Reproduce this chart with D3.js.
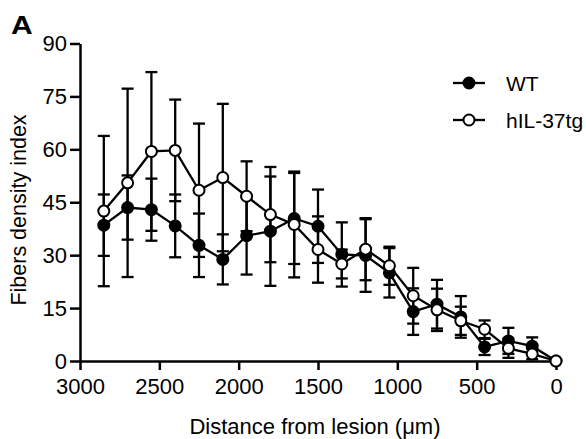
<!DOCTYPE html>
<html lang="en">
<head>
    <meta charset="UTF-8">
    <title>Fibers density index</title>
    <style>
        body {
            background-color: #ffffff;
            margin: 0;
            overflow: hidden;
        }
        svg {
            display: block;
            font-family: "Liberation Sans", Arial, sans-serif;
        }
        .axis path, .axis line {
            stroke: #000;
            stroke-width: 2.5;
        }
        .axis text {
            font-size: 22px;
            fill: #000;
        }
    </style>
</head>
<body>
    <svg id="chart" width="586" height="439"></svg>

    <script src="https://d3js.org/d3.v7.min.js"></script>
    <script>
        // distance from lesion (um)
        const distances = [2850, 2700, 2550, 2400, 2250, 2100, 1950, 1800, 1650, 1500,
                           1350, 1200, 1050, 900, 750, 600, 450, 300, 150, 0];

        const wtMean = [38.5, 43.5, 42.9, 38.3, 32.8, 28.8, 35.5, 36.8, 40.4, 38.2,
                        30.2, 29.9, 25.0, 14.0, 16.1, 12.5, 4.0, 5.7, 4.2, 0];
        const wtErr  = [8.7, 9.1, 8.8, 8.9, 9.0, 7.1, 11.0, 15.5, 12.9, 10.4,
                        9.1, 10.3, 7.0, 6.6, 6.9, 5.9, 2.3, 3.7, 2.5, 0];

        const tgMean = [42.5, 50.5, 59.4, 59.7, 48.4, 52.0, 46.7, 41.5, 38.7, 31.6,
                        27.5, 31.7, 27.0, 18.5, 14.5, 11.4, 9.0, 3.6, 2.0, 0];
        const tgErr  = [21.3, 26.7, 22.5, 14.4, 18.9, 20.9, 9.9, 13.5, 15.0, 9.4,
                        4.1, 8.8, 5.4, 7.9, 6.0, 4.0, 2.5, 2.7, 1.5, 0];

        const xTicks = [3000, 2500, 2000, 1500, 1000, 500, 0];
        const yTicks = [0, 15, 30, 45, 60, 75, 90];

        const series = [
            { name: "WT", mean: wtMean, err: wtErr, fill: "#000" },
            { name: "hIL-37tg", mean: tgMean, err: tgErr, fill: "#fff" }
        ];

        const svg = d3.select("#chart");

        const x = d3.scaleLinear().domain([3000, 0]).range([80, 556]);
        const y = d3.scaleLinear().domain([0, 90]).range([361, 43.5]);

        // axes
        svg.append("g")
            .attr("class", "axis")
            .attr("transform", "translate(0,361)")
            .call(d3.axisBottom(x).tickValues(xTicks).tickFormat(d3.format("d"))
                .tickSize(9).tickPadding(8).tickSizeOuter(0))
            .call(g => g.selectAll("text").attr("dy", "0.72em"));

        svg.append("g")
            .attr("class", "axis")
            .attr("transform", "translate(80,0)")
            .call(d3.axisLeft(y).tickValues(yTicks).tickSize(10).tickPadding(3).tickSizeOuter(0));

        // error bars
        const capW = 6;
        series.forEach(s => {
            const g = svg.append("g")
                .attr("stroke", "#000")
                .attr("stroke-width", 2.3)
                .attr("fill", "none");
            distances.forEach((d, i) => {
                if (s.err[i] <= 0) return;
                const cx = x(d), top = y(s.mean[i] + s.err[i]), bot = y(s.mean[i] - s.err[i]);
                g.append("line").attr("x1", cx).attr("x2", cx).attr("y1", top).attr("y2", bot);
                g.append("line").attr("x1", cx - capW).attr("x2", cx + capW).attr("y1", top).attr("y2", top);
                g.append("line").attr("x1", cx - capW).attr("x2", cx + capW).attr("y1", bot).attr("y2", bot);
            });
        });

        // lines + markers
        const line = d3.line()
            .x((d, i) => x(distances[i]))
            .y(d => y(d));

        series.forEach(s => {
            svg.append("path")
                .datum(s.mean)
                .attr("fill", "none")
                .attr("stroke", "#000")
                .attr("stroke-width", 2.3)
                .attr("d", line);
        });

        series.forEach(s => {
            svg.append("g")
                .selectAll("circle")
                .data(s.mean)
                .join("circle")
                .attr("cx", (d, i) => x(distances[i]))
                .attr("cy", d => y(d))
                .attr("r", 5.5)
                .attr("fill", s.fill)
                .attr("stroke", "#000")
                .attr("stroke-width", 2);
        });

        // axis labels
        svg.append("text")
            .attr("x", 315)
            .attr("y", 434)
            .attr("text-anchor", "middle")
            .style("font-size", "22px")
            .text("Distance from lesion (\u03bcm)");

        svg.append("text")
            .attr("transform", "rotate(-90)")
            .attr("x", -210)
            .attr("y", 26)
            .attr("text-anchor", "middle")
            .style("font-size", "21.5px")
            .text("Fibers density index");

        svg.append("text")
            .attr("x", 11)
            .attr("y", 34)
            .attr("transform", "translate(11,34) scale(1.2,1) translate(-11,-34)")
            .style("font-size", "25px")
            .style("font-weight", "bold")
            .text("A");

        // legend
        const legend = svg.append("g").attr("transform", "translate(453,83)");
        series.forEach((s, i) => {
            const row = legend.append("g").attr("transform", `translate(0,${i * 37})`);
            row.append("line")
                .attr("x1", 0).attr("x2", 32)
                .attr("stroke", "#000").attr("stroke-width", 2.3);
            row.append("circle")
                .attr("cx", 16).attr("r", 5.5)
                .attr("fill", s.fill).attr("stroke", "#000").attr("stroke-width", 2);
            row.append("text")
                .attr("x", 53).attr("y", 8)
                .style("font-size", "21px")
                .text(s.name);
        });
    </script>
</body>
</html>
